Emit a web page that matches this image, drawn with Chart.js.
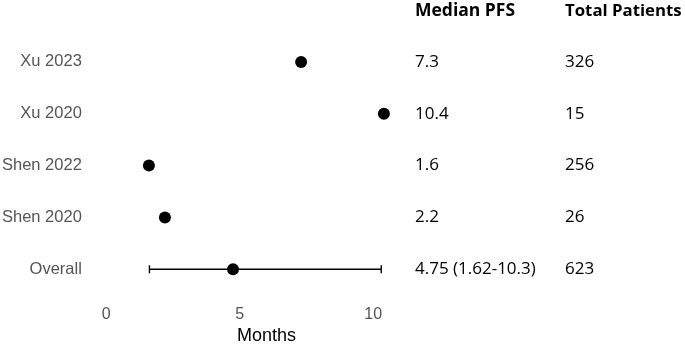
<!DOCTYPE html>
<html>
<head>
<meta charset="utf-8">
<script src="https://cdn.jsdelivr.net/npm/chart.js@4"></script>
<style>
html,body{margin:0;padding:0;background:#fff;}
#wrap{width:685px;height:344px;position:relative;}
</style>
</head>
<body>
<div id="wrap"><canvas id="c"></canvas></div>
<script>
const studies = ['Xu 2023', 'Xu 2020', 'Shen 2022', 'Shen 2020', 'Overall'];
const medianPFS = [7.3, 10.4, 1.6, 2.2, 4.75];
const overallCI = [1.62, 10.3];
const pfsText = ['7.3', '10.4', '1.6', '2.2', '4.75 (1.62-10.3)'];
const totalPatients = ['326', '15', '256', '26', '623'];
const columnHeaders = ['Median PFS', 'Total Patients'];
const xTicks = [0, 5, 10];

const tablePlugin = {
  id: 'tablePlugin',
  afterDatasetsDraw(chart) {
    const ctx = chart.ctx;
    const ys = chart.scales.y;
    const step = ys.getPixelForValue(1) - ys.getPixelForValue(0);
    const col1 = 415, col2 = 565;
    ctx.save();
    ctx.fillStyle = '#000';
    ctx.textBaseline = 'middle';
    ctx.textAlign = 'left';
    const hy = ys.getPixelForValue(0) - step + 1;
    ctx.font = 'bold 17.5px "Open Sans"';
    ctx.fillText(columnHeaders[0], col1, hy);
    ctx.font = 'bold 16.8px "Open Sans"';
    ctx.fillText(columnHeaders[1], col2, hy);
    ctx.font = '17px "Open Sans"';
    for (let i = 0; i < studies.length; i++) {
      const y = ys.getPixelForValue(i);
      ctx.fillText(pfsText[i], col1, y);
      ctx.fillText(totalPatients[i], col2, y);
    }
    ctx.restore();
  }
};

new Chart(document.getElementById('c'), {
  type: 'scatter',
  data: {
    datasets: [
      {
        data: studies.map((s, i) => ({x: medianPFS[i], y: s})),
        backgroundColor: '#000',
        borderColor: '#000',
        pointRadius: 6,
        pointBorderWidth: 0,
        clip: false
      },
      {
        data: [{x: overallCI[0], y: 'Overall'}, {x: overallCI[1], y: 'Overall'}],
        showLine: true,
        borderColor: '#000',
        borderWidth: 1.4,
        pointStyle: 'line',
        pointRotation: 90,
        pointRadius: 4,
        pointBorderWidth: 1.4,
        pointBorderColor: '#000',
        clip: false
      }
    ]
  },
  options: {
    responsive: true,
    maintainAspectRatio: false,
    animation: false,
    events: [],
    layout: {padding: {top: 36, left: -9, right: 245, bottom: 0}},
    plugins: {legend: {display: false}, tooltip: {enabled: false}},
    scales: {
      x: {
        type: 'linear',
        min: -0.5,
        max: 12.5,
        border: {display: false},
        grid: {display: false, drawTicks: false},
        afterBuildTicks(scale) { scale.ticks = xTicks.map(v => ({value: v})); },
        ticks: {color: '#555', font: {family: '"Liberation Sans", Arial', size: 16}, padding: 10, maxRotation: 0},
        title: {display: true, text: 'Months', color: '#000', font: {family: '"Liberation Sans", Arial', size: 18}, padding: {top: -9, bottom: -3}}
      },
      y: {
        type: 'category',
        labels: studies,
        offset: true,
        border: {display: false},
        grid: {display: false, drawTicks: false},
        ticks: {color: '#555', font: {family: '"Liberation Sans", Arial', size: 16.5}, padding: 11}
      }
    }
  },
  plugins: [tablePlugin]
});
</script>
</body>
</html>
